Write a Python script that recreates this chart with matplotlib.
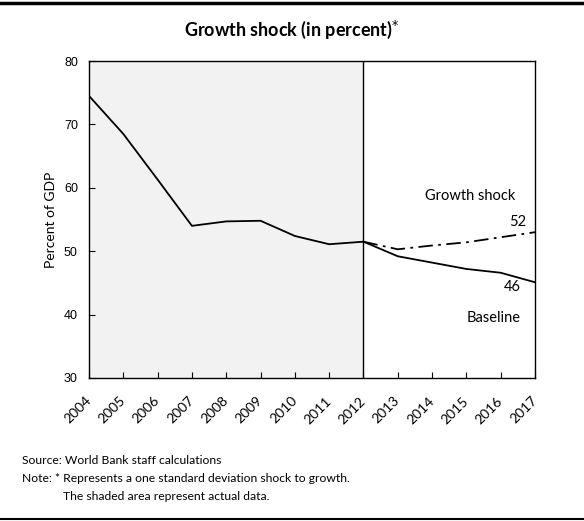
import matplotlib.pyplot as plt
import matplotlib.transforms as mtrans
from matplotlib.lines import Line2D

years = list(range(2004, 2018))
actual_years = list(range(2004, 2013))
actual = [74.5, 68.5, 61.3, 54.0, 54.7, 54.8, 52.4, 51.1, 51.5]
proj_years = list(range(2012, 2018))
baseline = [51.5, 49.2, 48.2, 47.2, 46.6, 45.1]
shock = [51.5, 50.3, 50.9, 51.4, 52.2, 53.0]

txt_font = 'Lato'
num_font = 'Liberation Sans'

fig = plt.figure(figsize=(5.84, 5.21), dpi=100)
ax = fig.add_axes([89 / 584, 1 - 378 / 521, 446 / 584, 317 / 521])

ax.axvspan(2004, 2012, color='#f2f2f2', zorder=0)
ax.axvline(2012, color='black', lw=1.0)
ax.plot(actual_years, actual, color='black', lw=1.3)
ax.plot(proj_years, baseline, color='black', lw=1.3)
ax.plot(proj_years, shock, color='black', lw=1.3, dashes=(8, 3, 1.5, 3))

ax.set_xlim(2004, 2017)
ax.set_ylim(30, 80)
ax.set_xticks(years)
ax.set_xticklabels([str(y) for y in years], rotation=45, ha='right', va='center',
                   rotation_mode='anchor', fontfamily=txt_font, fontsize=10)
shift = mtrans.ScaledTranslation(4 / 72, 0, fig.dpi_scale_trans)
for lab in ax.get_xticklabels():
    lab.set_transform(lab.get_transform() + shift)
ax.set_yticks([30, 40, 50, 60, 70, 80])
ax.set_yticklabels(['30', '40', '50', '60', '70', '80'], fontfamily=num_font, fontsize=9)
ax.tick_params(axis='x', direction='in', length=4, pad=15)
ax.tick_params(axis='y', direction='in', length=4, pad=8)
for s in ax.spines.values():
    s.set_linewidth(1.0)
ax.set_ylabel('Percent of GDP', fontfamily=txt_font, fontsize=10, labelpad=5)

ax.text(2015.1, 58.7, 'Growth shock', fontfamily=txt_font, fontsize=10.5, ha='center', va='center')
ax.text(2016.5, 54.6, '52', fontfamily=txt_font, fontsize=10.5, ha='center', va='center')
ax.text(2016.35, 44.4, '46', fontfamily=txt_font, fontsize=10.5, ha='center', va='center')
ax.text(2015.8, 39.5, 'Baseline', fontfamily=txt_font, fontsize=10.5, ha='center', va='center')

fig.text(0.5, 1 - 30 / 521, r'Growth shock (in percent)$^{*}$', fontfamily=txt_font,
         fontsize=13, fontweight='bold', ha='center', va='center')

fig.text(22 / 584, 1 - 460 / 521, 'Source: World Bank staff calculations',
         fontfamily=txt_font, fontsize=8.7, va='center')
fig.text(22 / 584, 1 - 478 / 521, 'Note: * Represents a one standard deviation shock to growth.',
         fontfamily=txt_font, fontsize=8.7, va='center')
fig.text(63 / 584, 1 - 496 / 521, 'The shaded area represent actual data.',
         fontfamily=txt_font, fontsize=8.7, va='center')

fig.add_artist(Line2D([0, 1], [1 - 3 / 521, 1 - 3 / 521], color='black', lw=2.5))
fig.add_artist(Line2D([0, 1], [1 - 519 / 521, 1 - 519 / 521], color='black', lw=1.5))

fig.savefig('out.png', dpi=100)
